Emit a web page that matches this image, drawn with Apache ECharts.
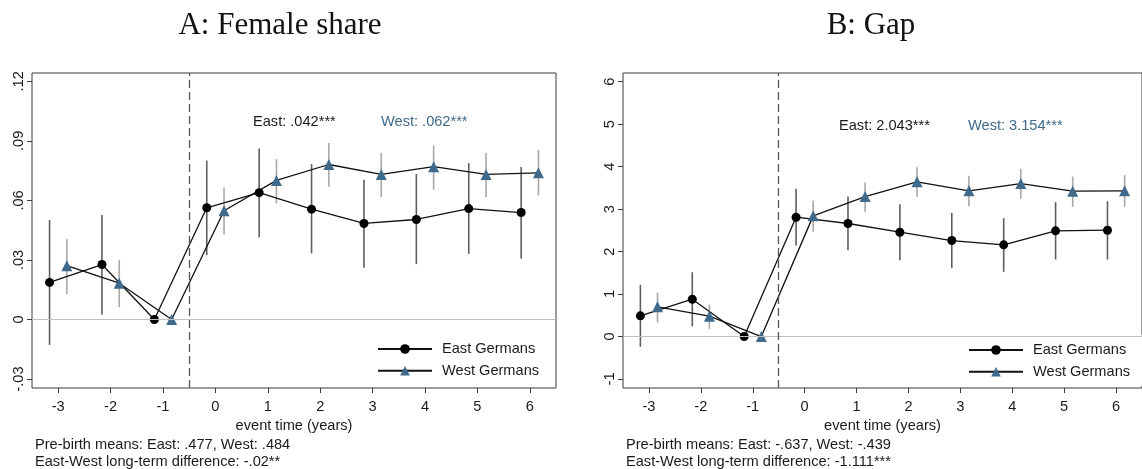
<!DOCTYPE html>
<html>
<head>
<meta charset="utf-8">
<script src="https://cdn.jsdelivr.net/npm/echarts@6/dist/echarts.min.js"></script>
<style>
  html, body { margin: 0; padding: 0; background: #fff; }
  #chart { width: 1142px; height: 469px; }
</style>
</head>
<body>
<div id="chart"></div>
<script>
// ---------- data ----------
const eventTime = [-3, -2, -1, 0, 1, 2, 3, 4, 5, 6];
const xTicks = [-3, -2, -1, 0, 1, 2, 3, 4, 5, 6];

// Panel A: Female share
const femaleEast   = [0.0187, 0.0277, 0, 0.0563, 0.0639, 0.0556, 0.0484, 0.0504, 0.0559, 0.0539];
const femaleEastLo = [-0.0128, 0.0025, null, 0.0324, 0.0415, 0.0333, 0.0261, 0.0279, 0.0331, 0.0307];
const femaleEastHi = [0.0501, 0.0526, null, 0.0801, 0.0862, 0.0783, 0.0704, 0.0733, 0.0788, 0.0768];
const femaleWest   = [0.0271, 0.0183, 0, 0.0548, 0.0701, 0.0781, 0.0731, 0.0770, 0.0731, 0.0739];
const femaleWestLo = [0.0128, 0.0062, null, 0.0428, 0.0585, 0.0669, 0.0617, 0.0654, 0.0617, 0.0625];
const femaleWestHi = [0.0405, 0.0301, null, 0.0665, 0.0808, 0.0889, 0.0840, 0.0877, 0.0840, 0.0854];
const yTicksA = [-0.03, 0, 0.03, 0.06, 0.09, 0.12];
const yTickLabelsA = ['-.03', '0', '.03', '.06', '.09', '.12'];

// Panel B: Gap
const gapEast   = [0.487, 0.878, 0, 2.809, 2.661, 2.456, 2.260, 2.159, 2.488, 2.503];
const gapEastLo = [-0.243, 0.243, null, 2.143, 2.032, 1.797, 1.609, 1.523, 1.813, 1.813];
const gapEastHi = [1.217, 1.514, null, 3.478, 3.296, 3.115, 2.912, 2.786, 3.163, 3.186];
const gapWest   = [0.699, 0.478, 0, 2.841, 3.296, 3.642, 3.430, 3.602, 3.422, 3.430];
const gapWestLo = [0.330, 0.181, null, 2.465, 2.936, 3.289, 3.069, 3.242, 3.053, 3.053];
const gapWestHi = [1.029, 0.753, null, 3.202, 3.626, 3.987, 3.784, 3.948, 3.767, 3.798];
const yTicksB = [-1, 0, 1, 2, 3, 4, 5, 6];
const yTickLabelsB = ['-1', '0', '1', '2', '3', '4', '5', '6'];

const seriesNames = ['East Germans', 'West Germans'];
const titles = ['A: Female share', 'B: Gap'];
const effectTexts = [['East: .042***', 'West: .062***'], ['East: 2.043***', 'West: 3.154***']];
const noteTexts = [
  ['Pre-birth means: East: .477, West: .484', 'East-West long-term difference: -.02**'],
  ['Pre-birth means: East: -.637, West: -.439', 'East-West long-term difference: -1.111***']
];
const birthLine = -0.5;
const dodge = 0.165;

// ---------- styles ----------
const FONT = '"Liberation Sans", Arial, sans-serif';
const SERIF = '"Liberation Serif", "Times New Roman", serif';
const FS = 14.6;
const TXT = '#1a1a1a';
const BLUE = '#3f6a8c';
const FRAME = '#3a3a3a';

function pts(vals, d) { return eventTime.map((t, i) => [t + d, vals[i]]); }
function ci(lo, hi, d) {
  const out = [];
  eventTime.forEach((t, i) => { if (lo[i] != null) out.push([t + d, lo[i], hi[i]]); });
  return out;
}
function ciSeries(idx, data, color) {
  return {
    type: 'custom', xAxisIndex: idx, yAxisIndex: idx, z: 1, silent: true,
    encode: { x: 0, y: [1, 2] },
    data: data,
    renderItem: function (params, api) {
      const p1 = api.coord([api.value(0), api.value(1)]);
      const p2 = api.coord([api.value(0), api.value(2)]);
      return { type: 'line', shape: { x1: p1[0], y1: p1[1], x2: p2[0], y2: p2[1] },
               style: { stroke: color, lineWidth: 1.6 } };
    }
  };
}
function lineSeries(idx, name, data, symbol, color, size, withMarks) {
  const s = {
    type: 'line', name: name, xAxisIndex: idx, yAxisIndex: idx, z: 3,
    data: data, symbol: symbol, symbolSize: size, showSymbol: true,
    itemStyle: { color: color },
    lineStyle: { color: '#111', width: 1.3 },
    emphasis: { disabled: true }, animation: false
  };
  if (withMarks) {
    s.markLine = {
      silent: true, symbol: 'none', animation: false, label: { show: false },
      data: [
        { yAxis: 0, lineStyle: { color: '#c0c0c0', type: 'solid', width: 1 } },
        { xAxis: birthLine, lineStyle: { color: '#555', type: [8, 4], width: 1.3 } }
      ]
    };
  }
  return s;
}
function xAxisCfg(idx) {
  return {
    type: 'value', gridIndex: idx, min: -3.5, max: 6.5, position: 'bottom',
    axisLine: { show: false, onZero: false }, splitLine: { show: false },
    axisTick: { show: true, customValues: xTicks, length: 5, lineStyle: { color: FRAME } },
    axisLabel: { customValues: xTicks, margin: 11, fontFamily: FONT, fontSize: FS, color: TXT },
    name: 'event time (years)', nameLocation: 'middle', nameGap: 29,
    nameTextStyle: { fontFamily: FONT, fontSize: FS, color: TXT }
  };
}
function yAxisCfg(idx, min, max, ticks, labels) {
  return {
    type: 'value', gridIndex: idx, min: min, max: max, position: 'left',
    axisLine: { show: false, onZero: false }, splitLine: { show: false },
    axisTick: { show: true, customValues: ticks, length: 5, lineStyle: { color: FRAME } },
    axisLabel: {
      customValues: ticks, rotate: 90, margin: 6, fontFamily: FONT, fontSize: FS, color: TXT,
      formatter: function (v) {
        let k = 0, best = Infinity;
        ticks.forEach((t, i) => { const d = Math.abs(t - v); if (d < best) { best = d; k = i; } });
        return labels[k];
      }
    }
  };
}
function legendCfg(left, top, bg) {
  return {
    data: seriesNames, orient: 'vertical', left: left, top: top,
    itemWidth: 54, itemHeight: 12, itemGap: 5.7,
    padding: bg ? [7, 30, 6, 6] : 0,
    backgroundColor: bg ? '#ffffff' : 'transparent',
    selectedMode: false,
    textStyle: { fontFamily: FONT, fontSize: FS, color: TXT, lineHeight: 16, padding: [0, 0, 0, 5] }
  };
}
function txt(x, y, text, color, align) {
  return { type: 'text', left: x, top: y, silent: true,
           style: { text: text, fill: color, font: FS + 'px ' + FONT, textAlign: align || 'left', textVerticalAlign: 'middle' } };
}

const option = {
  backgroundColor: '#ffffff',
  animation: false,
  title: [
    { text: titles[0], left: 280, top: 10, textAlign: 'center', padding: 0,
      textStyle: { fontFamily: SERIF, fontSize: 31, fontWeight: 'normal', color: '#111' } },
    { text: titles[1], left: 871, top: 10, textAlign: 'center', padding: 0,
      textStyle: { fontFamily: SERIF, fontSize: 31, fontWeight: 'normal', color: '#111' } }
  ],
  grid: [
    { left: 32, top: 73, right: 586, bottom: 81, show: true, borderColor: FRAME, borderWidth: 1, backgroundColor: 'transparent' },
    { left: 623, top: 73, right: -5, bottom: 81, show: true, borderColor: FRAME, borderWidth: 1, backgroundColor: 'transparent' }
  ],
  xAxis: [xAxisCfg(0), xAxisCfg(1)],
  yAxis: [
    yAxisCfg(0, -0.0345, 0.1242, yTicksA, yTickLabelsA),
    yAxisCfg(1, -1.212, 6.205, yTicksB, yTickLabelsB)
  ],
  legend: [legendCfg(377, 341, false), legendCfg(962, 335, true)],
  series: [
    ciSeries(0, ci(femaleEastLo, femaleEastHi, -dodge), '#5e5e5e'),
    ciSeries(0, ci(femaleWestLo, femaleWestHi, dodge), '#a8a8a8'),
    lineSeries(0, seriesNames[0], pts(femaleEast, -dodge), 'circle', '#000', 9, true),
    lineSeries(0, seriesNames[1], pts(femaleWest, dodge), 'triangle', BLUE, 11, false),
    ciSeries(1, ci(gapEastLo, gapEastHi, -dodge), '#5e5e5e'),
    ciSeries(1, ci(gapWestLo, gapWestHi, dodge), '#a8a8a8'),
    lineSeries(1, seriesNames[0], pts(gapEast, -dodge), 'circle', '#000', 9, true),
    lineSeries(1, seriesNames[1], pts(gapWest, dodge), 'triangle', BLUE, 11, false)
  ],
  graphic: [
    txt(253, 114, effectTexts[0][0], TXT),
    txt(381, 114, effectTexts[0][1], BLUE),
    txt(839, 118, effectTexts[1][0], TXT),
    txt(968, 118, effectTexts[1][1], BLUE),
    txt(35, 437, noteTexts[0][0], TXT),
    txt(35, 454, noteTexts[0][1], TXT),
    txt(626, 437, noteTexts[1][0], TXT),
    txt(626, 454, noteTexts[1][1], TXT)
  ]
};

const chart = echarts.init(document.getElementById('chart'), null, { renderer: 'canvas' });
chart.setOption(option);
</script>
</body>
</html>
